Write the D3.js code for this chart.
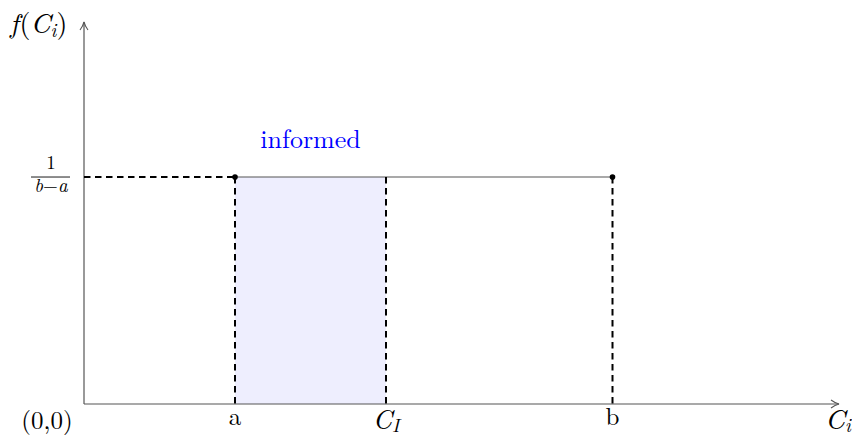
<!DOCTYPE html>
<html>
<head>
<meta charset="utf-8">
<script src="https://cdn.jsdelivr.net/npm/d3@7"></script>
<style>
  body { margin: 0; background: #fff; }
</style>
</head>
<body>
<svg id="chart"></svg>
<script>
var width = 852, height = 436;
var serif = "'Latin Modern Roman', 'CMU Serif', 'Liberation Serif', serif";

// Uniform density on [a, b], informed region [a, C_I]
var xMax = 10;
var yMax = 0.3366;
var aVal = 2;
var cIVal = 4;
var bVal = 7;
var density = 1 / (bVal - aVal);
var xTicks = [aVal, cIVal, bVal];
var xTickLabels = ["a", "C_I", "b"];

var svg = d3.select("#chart").attr("width", width).attr("height", height);

var x = d3.scaleLinear().domain([0, xMax]).range([84, 839]);
var y = d3.scaleLinear().domain([0, yMax]).range([404, 22]);

// Helper for text with the LaTeX-like font
function label(px, py, size) {
  return svg.append("text").attr("x", px).attr("y", py)
    .attr("font-size", size).style("font-family", serif);
}
function mathSpan(t, s) {
  return t.append("tspan").style("font-style", "italic").text(s);
}

// Arrow head for axes
svg.append("defs").append("marker")
  .attr("id", "arrow")
  .attr("viewBox", "0 0 10 10")
  .attr("refX", 9).attr("refY", 5)
  .attr("markerWidth", 10).attr("markerHeight", 10)
  .attr("markerUnits", "userSpaceOnUse")
  .attr("orient", "auto")
  .append("path")
  .attr("d", "M1,1 Q5,4 9,5 Q5,6 1,9")
  .attr("fill", "none")
  .attr("stroke", "#555")
  .attr("stroke-width", 1.1);

// Shaded informed area
svg.append("rect")
  .attr("x", x(aVal))
  .attr("y", y(density))
  .attr("width", x(cIVal) - x(aVal))
  .attr("height", y(0) - y(density))
  .attr("fill", "#eeeefe");

// Axes
svg.append("line")
  .attr("x1", x(0)).attr("y1", y(0)).attr("x2", x(xMax)).attr("y2", y(0))
  .attr("stroke", "#555").attr("stroke-width", 1.2)
  .attr("marker-end", "url(#arrow)");
svg.append("line")
  .attr("x1", x(0)).attr("y1", y(0)).attr("x2", x(0)).attr("y2", y(yMax))
  .attr("stroke", "#555").attr("stroke-width", 1.2)
  .attr("marker-end", "url(#arrow)");

// Density line
svg.append("line")
  .attr("x1", x(aVal)).attr("y1", y(density))
  .attr("x2", x(bVal)).attr("y2", y(density))
  .attr("stroke", "#555").attr("stroke-width", 1.2);

// Dashed guides
function dashed(x1, y1, x2, y2) {
  svg.append("line")
    .attr("x1", x1).attr("y1", y1).attr("x2", x2).attr("y2", y2)
    .attr("stroke", "#000").attr("stroke-width", 2)
    .attr("stroke-dasharray", "6.5,4.5");
}
dashed(x(0), y(density), x(aVal), y(density));
xTicks.forEach(function(v) { dashed(x(v), y(density), x(v), y(0)); });

// Endpoint dots
svg.selectAll("circle.end").data([aVal, bVal]).enter().append("circle")
  .attr("cx", function(d) { return x(d); })
  .attr("cy", y(density))
  .attr("r", 2.8)
  .attr("fill", "#000");

// Tick labels
xTicks.forEach(function(d, i) {
  var lab = xTickLabels[i];
  var t = label(x(d), 425, 25).attr("text-anchor", "middle");
  if (lab.indexOf("_") > 0) {
    var parts = lab.split("_");
    t.attr("y", 429).attr("font-size", 27);
    mathSpan(t, parts[0]);
    mathSpan(t, parts[1]).attr("font-size", 19).attr("dy", 3);
  } else {
    t.text(lab);
  }
});

// Origin label
label(47, 429, 25).attr("text-anchor", "middle").text("(0,0)");

// x axis title
var xt = label(838, 429, 28).attr("text-anchor", "middle");
mathSpan(xt, "C");
mathSpan(xt, "i").attr("font-size", 19).attr("dy", 3);

// y axis title
var yt = label(10, 33, 28);
mathSpan(yt, "f");
yt.append("tspan").attr("dx", 1).text("(");
mathSpan(yt, "C");
mathSpan(yt, "i").attr("font-size", 19).attr("dy", 4);
yt.append("tspan").attr("dy", -4).text(")");

// y tick fraction 1/(b-a)
label(51, 169, 19).attr("text-anchor", "middle").text("1");
svg.append("line").attr("x1", 31).attr("x2", 70).attr("y1", y(density)).attr("y2", y(density))
  .attr("stroke", "#000").attr("stroke-width", 0.9);
var fr = label(51, 192, 19).attr("text-anchor", "middle");
mathSpan(fr, "b");
fr.append("tspan").text("\u2212");
mathSpan(fr, "a");

// Region label
label((x(aVal) + x(cIVal)) / 2, 148, 26)
  .attr("text-anchor", "middle")
  .attr("fill", "#0000ff")
  .text("informed");
</script>
</body>
</html>
